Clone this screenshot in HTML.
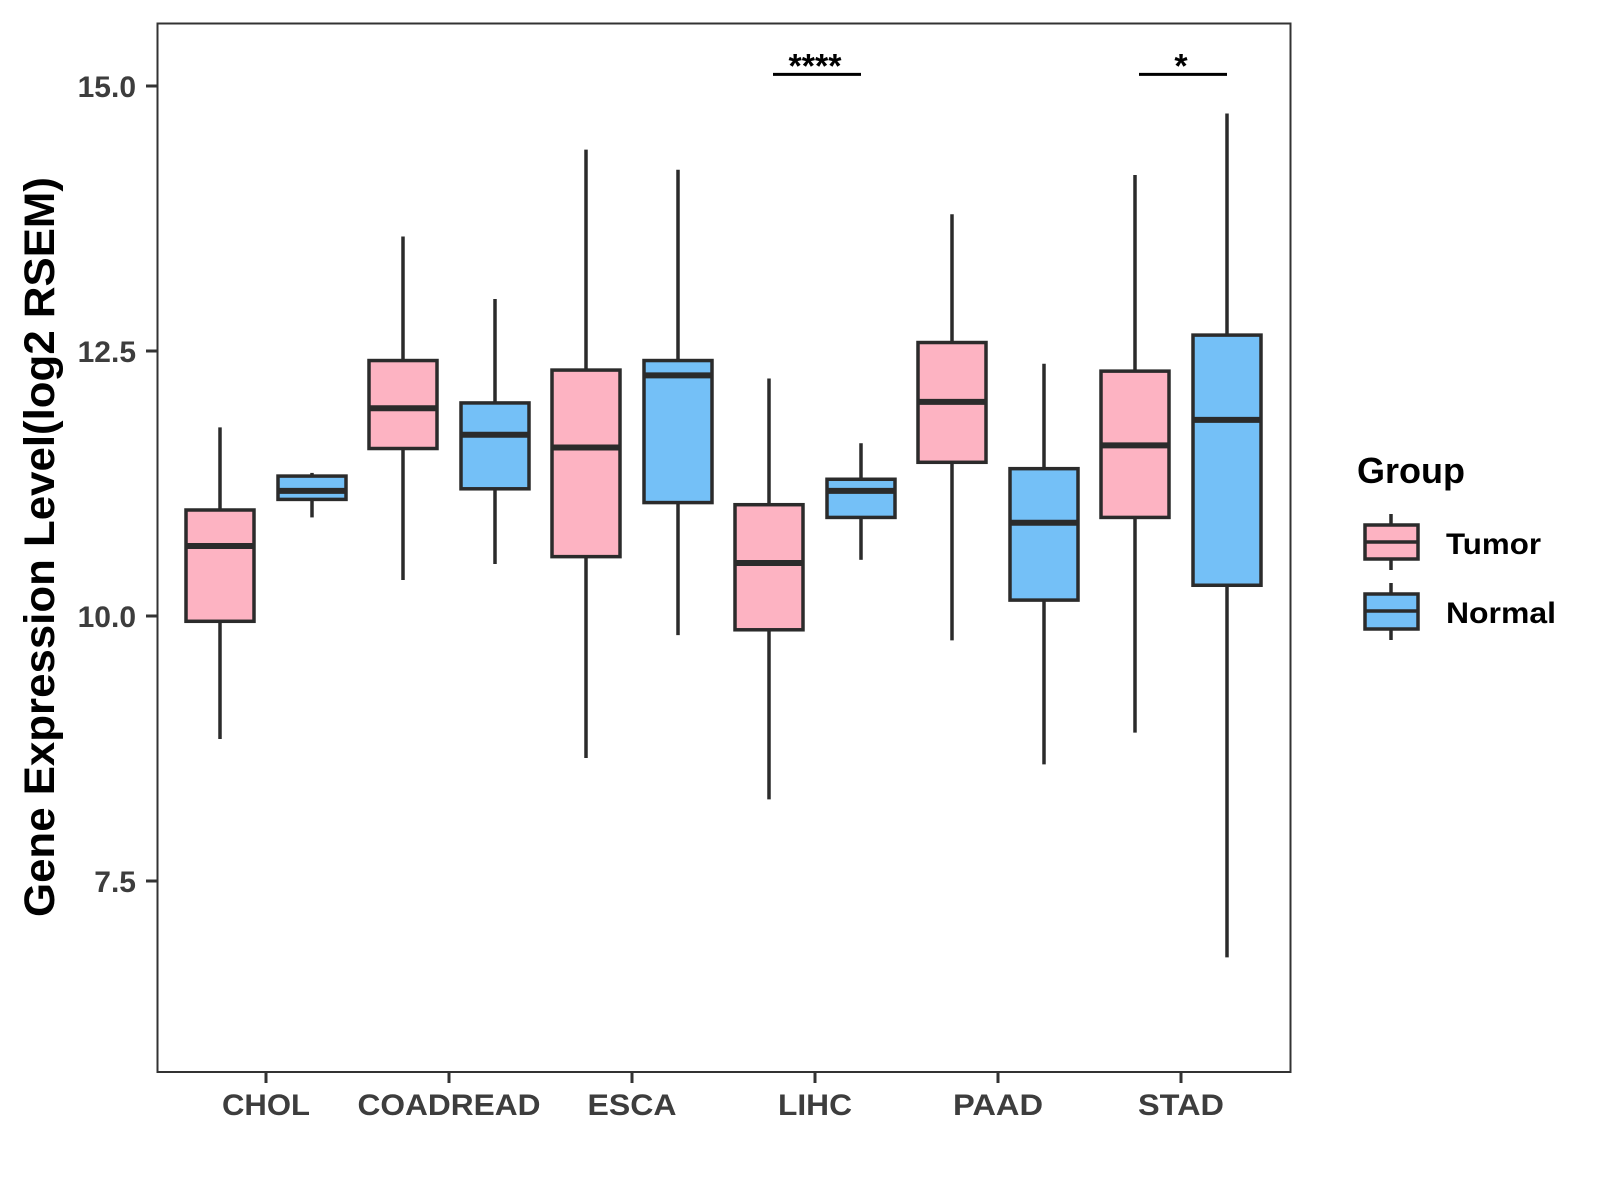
<!DOCTYPE html>
<html><head><meta charset="utf-8"><style>
html,body{margin:0;padding:0;background:#fff}
svg{display:block;font-family:"Liberation Sans",Arial,sans-serif}
</style></head><body>
<svg id="chart" width="1600" height="1200" viewBox="0 0 1600 1200">
<rect x="0" y="0" width="1600" height="1200" fill="#fff"/>
<g id="plot"></g>
<rect x="157.5" y="23.5" width="1133" height="1048.5" fill="none" stroke="#333" stroke-width="2"/>
<text transform="translate(54,547) rotate(-90)" text-anchor="middle" font-size="43" font-weight="bold" fill="#000" textLength="740" lengthAdjust="spacingAndGlyphs">Gene Expression Level(log2 RSEM)</text>
<g>
<text x="1357" y="483" font-size="36" font-weight="bold" fill="#000" textLength="108" lengthAdjust="spacingAndGlyphs">Group</text>
<g>
<line x1="1391" y1="514" x2="1391" y2="570" stroke="#2b2b2b" stroke-width="3.5"/>
<rect x="1365" y="525" width="53" height="34" fill="#FDB3C2" stroke="#2b2b2b" stroke-width="3.5"/>
<line x1="1365" y1="542" x2="1418" y2="542" stroke="#2b2b2b" stroke-width="3.5"/>
<text x="1446" y="554" font-size="30" font-weight="bold" fill="#000" textLength="95" lengthAdjust="spacingAndGlyphs">Tumor</text>
</g>
<g>
<line x1="1391" y1="583" x2="1391" y2="640" stroke="#2b2b2b" stroke-width="3.5"/>
<rect x="1365" y="594" width="53" height="35" fill="#74C0F7" stroke="#2b2b2b" stroke-width="3.5"/>
<line x1="1365" y1="611" x2="1418" y2="611" stroke="#2b2b2b" stroke-width="3.5"/>
<text x="1446" y="623" font-size="30" font-weight="bold" fill="#000" textLength="110" lengthAdjust="spacingAndGlyphs">Normal</text>
</g>
</g>
</svg>
<script>
const categories = ["CHOL","COADREAD","ESCA","LIHC","PAAD","STAD"];
const tumorLow = [8.84,10.34,8.66,8.27,9.77,8.90];
const tumorQ1 = [9.95,11.58,10.56,9.87,11.45,10.93];
const tumorMed = [10.66,11.96,11.59,10.50,12.02,11.61];
const tumorQ3 = [11.00,12.41,12.32,11.05,12.58,12.31];
const tumorHigh = [11.78,13.58,14.40,12.24,13.79,14.16];
const normalLow = [10.93,10.49,9.82,10.53,8.60,6.78];
const normalQ1 = [11.10,11.20,11.07,10.93,10.15,10.29];
const normalMed = [11.18,11.71,12.27,11.18,10.88,11.85];
const normalQ3 = [11.32,12.01,12.41,11.29,11.39,12.65];
const normalHigh = [11.35,12.99,14.21,11.63,12.38,14.74];
const yTicks = [7.5,10.0,12.5,15.0];
const yTickLabels = ["7.5","10.0","12.5","15.0"];
const sigCats = ["LIHC","STAD"];
const sigLabels = ["****","*"];
const sigValue = [15.11,15.11];

const NS="http://www.w3.org/2000/svg";
const plot=document.getElementById('plot');
function y(v){return 86+(15-v)*106;}
function x(i){return 266+i*183;}
function mk(tag,attrs,parent){const e=document.createElementNS(NS,tag);for(const k in attrs)e.setAttribute(k,attrs[k]);(parent||plot).appendChild(e);return e;}
const stroke="#2b2b2b";
function box(cx,lo,q1,md,q3,hi,fill,name){
  const g=mk('g',{});
  
  
  mk('line',{x1:cx,x2:cx,y1:y(hi),y2:y(q3),stroke:stroke,'stroke-width':3.5},g);
  mk('line',{x1:cx,x2:cx,y1:y(q1),y2:y(lo),stroke:stroke,'stroke-width':3.5},g);
  mk('rect',{x:cx-34,y:y(q3),width:68,height:y(q1)-y(q3),fill:fill,stroke:stroke,'stroke-width':3.5},g);
  mk('line',{x1:cx-34,x2:cx+34,y1:y(md),y2:y(md),stroke:stroke,'stroke-width':6},g);
}
const xLabelLen=[88,183,89,74,90,86];
categories.forEach((c,i)=>{
  box(x(i)-46,tumorLow[i],tumorQ1[i],tumorMed[i],tumorQ3[i],tumorHigh[i],"#FDB3C2","box-tumor-"+c.toLowerCase());
  box(x(i)+46,normalLow[i],normalQ1[i],normalMed[i],normalQ3[i],normalHigh[i],"#74C0F7","box-normal-"+c.toLowerCase());
  const t=mk('line',{x1:x(i),x2:x(i),y1:1072,y2:1083,stroke:"#333",'stroke-width':3});
  
  
  const l=mk('text',{x:x(i),y:1115,'text-anchor':'middle','font-size':30,'font-weight':'bold',fill:'#3d3d3d',textLength:xLabelLen[i],lengthAdjust:'spacingAndGlyphs'});
  l.textContent=c;
  
  
});
yTicks.forEach((v,i)=>{
  const t=mk('line',{x1:146,x2:157,y1:y(v),y2:y(v),stroke:"#333",'stroke-width':3});
  
  
  const l=mk('text',{x:136,y:y(v)+11,'text-anchor':'end','font-size':30,'font-weight':'bold',fill:'#3d3d3d'});
  l.textContent=yTickLabels[i];
  
  
});
sigCats.forEach((c,k)=>{
  const i=categories.indexOf(c);
  const yy=y(sigValue[k]);
  const ln=mk('line',{x1:x(i)-46+4,x2:x(i)+46,y1:yy,y2:yy,stroke:"#000",'stroke-width':3});
  
  
  const t=mk('text',{x:x(i),y:yy+3,'text-anchor':'middle','font-size':34,'font-weight':'bold',fill:'#000'});
  t.textContent=sigLabels[k];
  
  
});
</script>
</body></html>
